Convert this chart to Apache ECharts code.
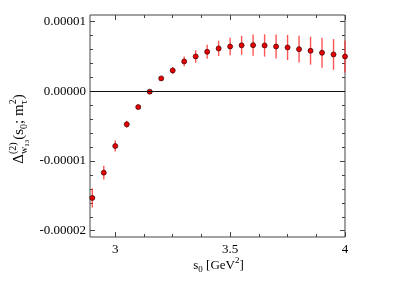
<!DOCTYPE html>
<html><head><meta charset="utf-8">
<script src="https://cdn.jsdelivr.net/npm/echarts@6/dist/echarts.min.js"></script>
<style>html,body{margin:0;padding:0;background:#fff}#c{width:403px;height:285px}</style>
</head><body><div id="c"></div>
<script>
// ---- data ----
const s0 = [2.90, 2.95, 3.00, 3.05, 3.10, 3.15, 3.20, 3.25, 3.30, 3.35, 3.40, 3.45,
            3.50, 3.55, 3.60, 3.65, 3.70, 3.75, 3.80, 3.85, 3.90, 3.95, 4.00];
const delta = [-1.530e-5, -1.168e-5, -0.787e-5, -0.476e-5, -0.229e-5, -0.008e-5, 0.182e-5, 0.296e-5,
               0.425e-5, 0.496e-5, 0.563e-5, 0.611e-5, 0.639e-5, 0.656e-5, 0.658e-5, 0.654e-5,
               0.639e-5, 0.625e-5, 0.601e-5, 0.578e-5, 0.549e-5, 0.525e-5, 0.496e-5];
const deltaErr = [0.136e-5, 0.100e-5, 0.080e-5, 0.050e-5, 0.020e-5, 0.010e-5, 0.020e-5, 0.050e-5,
                  0.070e-5, 0.090e-5, 0.100e-5, 0.110e-5, 0.124e-5, 0.136e-5, 0.153e-5, 0.160e-5,
                  0.172e-5, 0.180e-5, 0.190e-5, 0.200e-5, 0.215e-5, 0.220e-5, 0.230e-5];
const xMajor = [3, 3.5, 4];
const xMinor = [3.125, 3.25, 3.375, 3.625, 3.75, 3.875];
const yMajor = [-2e-5, -1e-5, 0, 1e-5];
const yMinor = [-1.8e-5, -1.6e-5, -1.4e-5, -1.2e-5, -0.8e-5, -0.6e-5, -0.4e-5, -0.2e-5,
                0.2e-5, 0.4e-5, 0.6e-5, 0.8e-5];

const FONT = '"Liberation Serif", "Times New Roman", serif';
const frameColor = '#444';

const chart = echarts.init(document.getElementById('c'));

function xAx(pos, ticks, len, labels) {
  return {
    type: 'value', position: pos, min: 2.89, max: 4.0,
    axisLine: { show: false, onZero: false },
    axisTick: { show: true, inside: true, length: len, customValues: ticks, lineStyle: { color: frameColor, width: 1 } },
    axisLabel: labels ? { show: true, customValues: ticks, margin: 6, color: '#000', fontFamily: FONT, fontSize: 13,
      formatter: v => String(+v.toFixed(3)) } : { show: false },
    splitLine: { show: false }
  };
}
function yAx(pos, ticks, len, labels) {
  return {
    type: 'value', position: pos, min: -2.09e-5, max: 1.09e-5,
    axisLine: { show: false, onZero: false },
    axisTick: { show: true, inside: true, length: len, customValues: ticks, lineStyle: { color: frameColor, width: 1 } },
    axisLabel: labels ? { show: true, customValues: ticks, margin: 4, color: '#000', fontFamily: FONT, fontSize: 13,
      formatter: v => { const s = v.toFixed(5); return s === '-0.00000' ? '0.00000' : s; } } : { show: false },
    splitLine: { show: false }
  };
}

// text helpers for sub/superscript titles
const mctx = document.createElement('canvas').getContext('2d');
function tw(t, fs) { mctx.font = fs + 'px ' + FONT; return mctx.measureText(t).width; }
function build(parts) {
  let x = 0; const out = [];
  for (const g of parts) {
    let mw = 0;
    for (const it of g) {
      const [t, fs, b, dx = 0] = it;
      out.push({ type: 'text', x: x + dx, y: b - 0.3 * fs,
        style: { text: t, font: fs + 'px ' + FONT, fill: '#000', align: 'left', verticalAlign: 'middle',
                 textAlign: 'left', textVerticalAlign: 'middle' } });
      mw = Math.max(mw, dx + tw(t, fs));
    }
    x += mw;
  }
  return { children: out, width: x };
}
const xl = build([[['s', 13, 0]], [['0', 9, 3]], [[' [GeV', 13, 0]], [['2', 9, -6]], [[']', 13, 0]]]);
const yl = build([
  [['\u0394', 15, 0]],
  [['(2)', 10, -8], ['w', 10, 3], ['13', 7, 5, tw('w', 10)]],
  [['(s', 15, 0]], [['0', 10, 3]], [['; m', 15, 0]],
  [['2', 10, -8], ['\u03c4', 10, 3]],
  [[')', 15, 0]]
]);

const errData = s0.map((x, i) => [x, delta[i], deltaErr[i]]);
const ptData = s0.map((x, i) => [x, delta[i]]);

chart.setOption({
  animation: false,
  grid: { left: 90, top: 15, right: 58, bottom: 48, show: true, borderColor: frameColor, borderWidth: 1, backgroundColor: 'transparent' },
  xAxis: [xAx('bottom', xMajor, 5, true), xAx('bottom', xMinor, 3, false), xAx('top', xMajor, 5, false), xAx('top', xMinor, 3, false)],
  yAxis: [yAx('left', yMajor, 5, true), yAx('left', yMinor, 3, false), yAx('right', yMajor, 5, false), yAx('right', yMinor, 3, false)],
  series: [
    {
      type: 'custom', xAxisIndex: 0, yAxisIndex: 0, data: errData, encode: { x: 0, y: 1 }, z: 2,
      renderItem(params, api) {
        const x = api.value(0), y = api.value(1), e = api.value(2);
        const p1 = api.coord([x, y - e]), p2 = api.coord([x, y + e]);
        return { type: 'line', shape: { x1: p1[0], y1: p1[1], x2: p2[0], y2: p2[1] },
                 style: { stroke: '#ff2a2a', lineWidth: 1.4, opacity: 0.8 } };
      }
    },
    {
      type: 'scatter', xAxisIndex: 0, yAxisIndex: 0, data: ptData, z: 3,
      symbol: 'circle', symbolSize: 5,
      itemStyle: { color: '#e80000', borderColor: '#300', borderWidth: 0.7, opacity: 1 },
      markLine: { silent: true, symbol: 'none', label: { show: false },
        lineStyle: { color: '#111', width: 1, type: 'solid' }, data: [{ yAxis: 0 }] }
    }
  ],
  graphic: [
    { type: 'group', x: 218.5 - xl.width / 2, y: 269, children: xl.children },
    { type: 'group', x: 24, y: 129 + yl.width / 2, rotation: Math.PI / 2, children: yl.children }
  ]
});
</script></body></html>
